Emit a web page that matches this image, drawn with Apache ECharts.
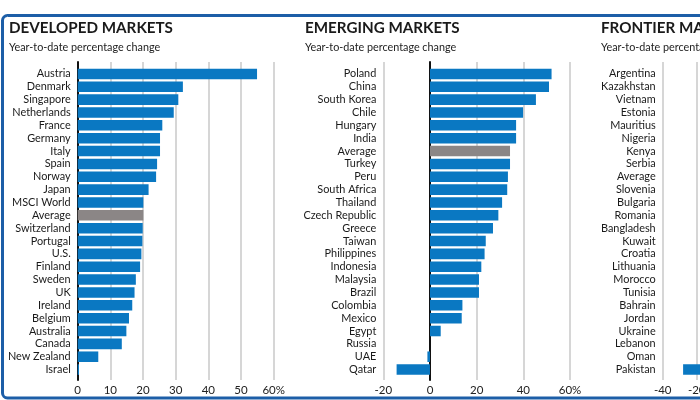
<!DOCTYPE html>
<html>
<head>
<meta charset="utf-8">
<script src="https://cdn.jsdelivr.net/npm/echarts@6/dist/echarts.min.js"></script>
<style>html,body{margin:0;padding:0;background:#fff;}#c{width:700px;height:400px;}</style>
</head>
<body>
<div id="c"></div>
<script>
const devCategories = ['Austria','Denmark','Singapore','Netherlands','France','Germany','Italy','Spain','Norway','Japan','MSCI World','Average','Switzerland','Portugal','U.S.','Finland','Sweden','UK','Ireland','Belgium','Australia','Canada','New Zealand','Israel'];
const devValues = [54.9,32.2,30.8,29.4,25.9,25.2,25.2,24.3,24.0,21.7,20.1,20.1,19.9,19.8,19.5,19.1,17.8,17.4,16.7,15.7,14.9,13.5,6.3,0.4];
const emCategories = ['Poland','China','South Korea','Chile','Hungary','India','Average','Turkey','Peru','South Africa','Thailand','Czech Republic','Greece','Taiwan','Philippines','Indonesia','Malaysia','Brazil','Colombia','Mexico','Egypt','Russia','UAE','Qatar'];
const emValues = [52.1,51.0,45.4,39.9,36.9,36.9,34.3,34.3,33.4,33.1,30.9,29.3,27.0,23.9,23.4,22.0,21.0,21.0,13.9,13.6,4.6,0,-1.1,-14.3];
const frCategories = ['Argentina','Kazakhstan','Vietnam','Estonia','Mauritius','Nigeria','Kenya','Serbia','Average','Slovenia','Bulgaria','Romania','Bangladesh','Kuwait','Croatia','Lithuania','Morocco','Tunisia','Bahrain','Jordan','Ukraine','Lebanon','Oman','Pakistan'];
const frValues = [70,56,45,40,37,35,32,26,24,22,18,17,16,13,12,10,8,5,3,1,-2,-4,-12,-28];
const titles = ['DEVELOPED MARKETS','EMERGING MARKETS','FRONTIER MARKETS'];
const subtitle = 'Year-to-date percentage change';
const axisRanges = [{min:0,max:60,interval:10},{min:-20,max:60,interval:20},{min:-40,max:80,interval:20}];

const panels = [
  {cats: devCategories, vals: devValues, left: 77.7, width: 196, titleLeft: 9},
  {cats: emCategories, vals: emValues, left: 383.3, width: 186.7, titleLeft: 305},
  {cats: frCategories, vals: frValues, left: 662.7, width: 204, titleLeft: 601}
];
const FONT = 'Lato';
const BLUE = '#0a78c2';
const GREY = '#8b8686';

const grid = [], xAxis = [], yAxis = [], series = [], title = [];
panels.forEach((p, i) => {
  const r = axisRanges[i];
  grid.push({left: p.left, width: p.width, top: 62, height: 318, outerBoundsMode:'none', containLabel:false});
  xAxis.push({type:'value', gridIndex:i, min:r.min, max:r.max, interval:r.interval,
    axisLine:{show:false}, axisTick:{show:false},
    splitLine:{show:true, lineStyle:{color:'#c9c9c9', width:1.5}},
    axisLabel:{fontFamily:FONT, fontSize:11.5, color:'#222', margin:4,
      formatter: v => v === r.max ? v + '%' : String(v)}});
  yAxis.push({type:'category', gridIndex:i, data:p.cats, inverse:true,
    axisLine:{show:true, onZero:true, lineStyle:{color:'#111', width:2}},
    axisTick:{show:false}, axisLabel:{show:false}, splitLine:{show:false}});
  title.push({text:titles[i], left:p.titleLeft, top:21, padding:0,
    textStyle:{fontFamily:FONT, fontWeight:'bold', fontSize:15.2, color:'#1a1a1a'}});
  title.push({text:subtitle, left:p.titleLeft, top:42, padding:0,
    textStyle:{fontFamily:FONT, fontWeight:'normal', fontSize:10.8, color:'#222'}});
});
panels.forEach((p, i) => {
  const r = axisRanges[i];
  const gi = i + 3;
  grid.push({left: p.left, width: p.width, top: 67.5, height: 308.5, outerBoundsMode:'none', containLabel:false});
  xAxis.push({type:'value', gridIndex:gi, min:r.min, max:r.max, show:false});
  yAxis.push({type:'category', gridIndex:gi, data:p.cats, inverse:true,
    axisLine:{show:false, onZero:false}, axisTick:{show:false},
    axisLabel:{fontFamily:FONT, fontSize:10.9, color:'#1a1a1a', margin:7, interval:0}});
  series.push({type:'bar', xAxisIndex:gi, yAxisIndex:gi, barCategoryGap:'18%', silent:true,
    data: p.vals.map((v, k) => ({value:v, itemStyle:{color: p.cats[k] === 'Average' ? GREY : BLUE}}))});
});

const chart = echarts.init(document.getElementById('c'), null, {renderer:'canvas'});
chart.setOption({
  animation:false,
  backgroundColor:'#fff',
  title, grid, xAxis, yAxis, series,
  graphic:[{type:'rect', shape:{x:2.5, y:15.5, width:800, height:382.5, r:5},
    style:{fill:'none', stroke:'#1c5ea7', lineWidth:3}, z:100}]
});
</script>
</body>
</html>
